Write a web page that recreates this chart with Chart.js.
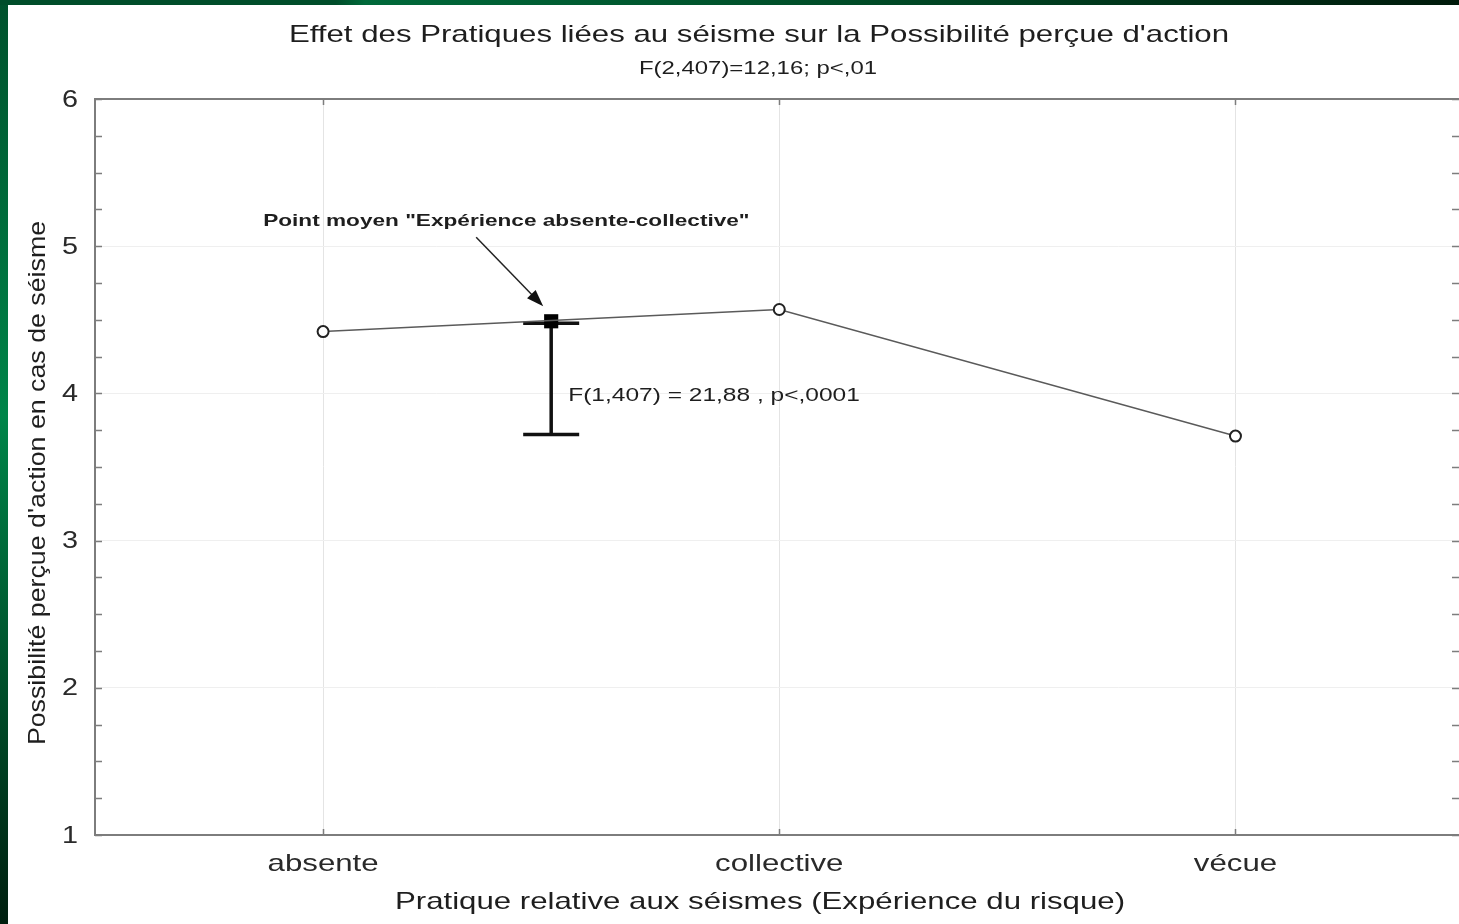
<!DOCTYPE html>
<html lang="fr">
<head>
<meta charset="utf-8">
<title>Effet des Pratiques liées au séisme sur la Possibilité perçue d'action</title>
<script src="https://cdn.jsdelivr.net/npm/chart.js@4/dist/chart.umd.min.js"></script>
<style>
  html, body { margin: 0; padding: 0; background: #fff; overflow: hidden; }
  canvas { display: block; }
</style>
</head>
<body>
<canvas id="chart" width="1459" height="924"></canvas>
<script>
// Expérience du risque sismique : moyennes de la possibilité perçue d'action
const categories = ['absente', 'collective', 'vécue'];
const means = [4.42, 4.57, 3.71];

// Point moyen des groupes « absente » et « collective » et écart testé vers « vécue »
const pooledPosition = [0.5];
const pooledMean = [4.49];
const contrastLow = [3.72];

const yTicks = [1, 2, 3, 4, 5, 6];

const titleText = "Effet des Pratiques liées au séisme sur la Possibilité perçue d'action";
const subtitleText = 'F(2,407)=12,16; p<,01';
const xTitleText = 'Pratique relative aux séismes (Expérience du risque)';
const yTitleText = "Possibilité perçue d'action en cas de séisme";
const pooledLabel = 'Point moyen "Expérience absente-collective"';
const contrastLabel = 'F(1,407) = 21,88 , p<,0001';

const FONT = '"Liberation Sans", Arial, Helvetica, sans-serif';
const INK = '#1e1e1e';
const AXIS = '#7d7d7d';
const WIDE = 1.3; // horizontal widening of the lettering

// text helper: draws a label with a horizontal widening factor
function wideText(ctx, text, x, y, font, sx, align, color) {
  ctx.save();
  ctx.font = font;
  ctx.fillStyle = color || INK;
  ctx.textAlign = align || 'center';
  ctx.textBaseline = 'middle';
  ctx.translate(x, y);
  ctx.scale(sx, 1);
  ctx.fillText(text, 0, 0);
  ctx.restore();
}

const decor = {
  id: 'decor',
  beforeDraw(chart) {
    const { ctx, width, height } = chart;
    ctx.save();
    ctx.fillStyle = '#ffffff';
    ctx.fillRect(0, 0, width, height);
    // green slide frame
    const gl = ctx.createLinearGradient(0, 0, 0, height);
    gl.addColorStop(0, '#00512c');
    gl.addColorStop(0.45, '#008549');
    gl.addColorStop(1, '#001f0f');
    ctx.fillStyle = gl;
    ctx.fillRect(0, 0, 8, height);
    const gt = ctx.createLinearGradient(0, 0, width, 0);
    gt.addColorStop(0, '#004d2a');
    gt.addColorStop(0.23, '#004d2a');
    gt.addColorStop(0.25, '#00693a');
    gt.addColorStop(0.6, '#004a26');
    gt.addColorStop(1, '#001a0b');
    ctx.fillStyle = gt;
    ctx.fillRect(0, 0, width, 5);
    ctx.restore();
  },
  beforeDatasetsDraw(chart) {
    const { ctx, chartArea: a, scales: { x, y } } = chart;
    ctx.save();
    // top frame line
    ctx.strokeStyle = AXIS;
    ctx.lineWidth = 2;
    ctx.beginPath();
    ctx.moveTo(a.left, a.top);
    ctx.lineTo(a.right, a.top);
    ctx.stroke();
    // inward tick marks on both vertical sides
    ctx.lineWidth = 1.5;
    for (let v = 1; v <= 6.0001; v += 0.25) {
      const py = Math.round(y.getPixelForValue(v)) + 0.5;
      ctx.beginPath();
      ctx.moveTo(a.left, py); ctx.lineTo(a.left + 7, py);
      ctx.moveTo(a.right, py); ctx.lineTo(a.right - 7, py);
      ctx.stroke();
    }
    // inward tick marks at categories
    categories.forEach((c, i) => {
      const px = Math.round(x.getPixelForValue(i)) + 0.5;
      ctx.beginPath();
      ctx.moveTo(px, a.top); ctx.lineTo(px, a.top + 6);
      ctx.moveTo(px, a.bottom); ctx.lineTo(px, a.bottom - 6);
      ctx.stroke();
    });
    // contrast bar from the pooled mean down to the lower bound
    pooledPosition.forEach((p, i) => {
      const px = x.getPixelForValue(p);
      const top = y.getPixelForValue(pooledMean[i]);
      const low = y.getPixelForValue(contrastLow[i]);
      ctx.strokeStyle = '#111';
      ctx.lineWidth = 3.5;
      ctx.beginPath();
      ctx.moveTo(px, top); ctx.lineTo(px, low);
      ctx.moveTo(px - 28, top + 2); ctx.lineTo(px + 28, top + 2);
      ctx.moveTo(px - 28, low); ctx.lineTo(px + 28, low);
      ctx.stroke();
    });
    ctx.restore();
  },
  afterDraw(chart) {
    const { ctx, chartArea: a, scales: { x, y } } = chart;

    // axis tick labels, placed by the scales
    yTicks.forEach((v) => {
      wideText(ctx, String(v), a.left - 17, y.getPixelForValue(v) + 1, `24px ${FONT}`, 1.2, 'right', '#2a2a2a');
    });
    categories.forEach((c, i) => {
      wideText(ctx, c, x.getPixelForValue(i), a.bottom + 29, `24px ${FONT}`, WIDE, 'center', '#2a2a2a');
    });

    // titles
    wideText(ctx, titleText, 759, 35, `24px ${FONT}`, WIDE);
    wideText(ctx, subtitleText, 758, 69, `18px ${FONT}`, 1.33);
    wideText(ctx, xTitleText, 760, 902, `24px ${FONT}`, WIDE);
    ctx.save();
    ctx.translate(38, 483);
    ctx.rotate(-Math.PI / 2);
    wideText(ctx, yTitleText, 0, 0, `24px ${FONT}`, 1.115);
    ctx.restore();

    // annotations around the pooled mean
    const px = x.getPixelForValue(pooledPosition[0]);
    const py = y.getPixelForValue(pooledMean[0]);
    wideText(ctx, pooledLabel, px - 288, py - 100, `bold 17px ${FONT}`, 1.33, 'left');
    ctx.save();
    const sx = px - 75, sy = py - 84;
    const tx = px - 8, ty = py - 15;
    const ang = Math.atan2(ty - sy, tx - sx);
    ctx.strokeStyle = '#222';
    ctx.lineWidth = 1.5;
    ctx.beginPath();
    ctx.moveTo(sx, sy);
    ctx.lineTo(tx - 12 * Math.cos(ang), ty - 12 * Math.sin(ang));
    ctx.stroke();
    ctx.fillStyle = '#111';
    ctx.beginPath();
    ctx.moveTo(tx, ty);
    ctx.lineTo(tx - 17 * Math.cos(ang) + 6 * Math.sin(ang), ty - 17 * Math.sin(ang) - 6 * Math.cos(ang));
    ctx.lineTo(tx - 17 * Math.cos(ang) - 6 * Math.sin(ang), ty - 17 * Math.sin(ang) + 6 * Math.cos(ang));
    ctx.closePath();
    ctx.fill();
    ctx.restore();

    wideText(ctx, contrastLabel, px + 17, y.getPixelForValue(4) + 2, `19px ${FONT}`, 1.29, 'left');
  }
};

new Chart(document.getElementById('chart'), {
  type: 'scatter',
  data: {
    datasets: [
      {
        label: 'Moyennes',
        data: categories.map((c, i) => ({ x: i, y: means[i] })),
        showLine: true,
        borderColor: '#5a5a5a',
        borderWidth: 1.5,
        pointRadius: 5.5,
        pointBackgroundColor: '#ffffff',
        pointBorderColor: '#222222',
        pointBorderWidth: 2
      },
      {
        label: 'Point moyen',
        data: pooledPosition.map((p, i) => ({ x: p, y: pooledMean[i] })),
        pointStyle: 'rect',
        pointRadius: 10,
        pointBackgroundColor: '#000000',
        pointBorderColor: '#000000',
        pointBorderWidth: 0,
        showLine: false
      }
    ]
  },
  options: {
    responsive: false,
    animation: false,
    devicePixelRatio: 1,
    layout: { autoPadding: false, padding: { top: 99, left: 0, right: 0, bottom: 0 } },
    plugins: {
      legend: { display: false },
      tooltip: { enabled: false },
      title: { display: false }
    },
    scales: {
      x: {
        type: 'linear',
        min: -0.5,
        max: 2.49,
        afterBuildTicks: (s) => { s.ticks = categories.map((c, i) => ({ value: i })); },
        afterFit: (s) => { s.height = 89; s.paddingLeft = 0; s.paddingRight = 0; },
        ticks: { display: false },
        grid: { color: '#e4e4e4', lineWidth: 1, drawTicks: false },
        border: { color: AXIS, width: 2 }
      },
      y: {
        min: 1,
        max: 6,
        afterBuildTicks: (s) => { s.ticks = yTicks.map((v) => ({ value: v })); },
        afterFit: (s) => { s.width = 95; s.paddingTop = 0; s.paddingBottom = 0; },
        ticks: { display: false },
        grid: { color: '#efefef', lineWidth: 1, drawTicks: false },
        border: { color: AXIS, width: 2 }
      }
    }
  },
  plugins: [decor]
});
</script>
</body>
</html>
